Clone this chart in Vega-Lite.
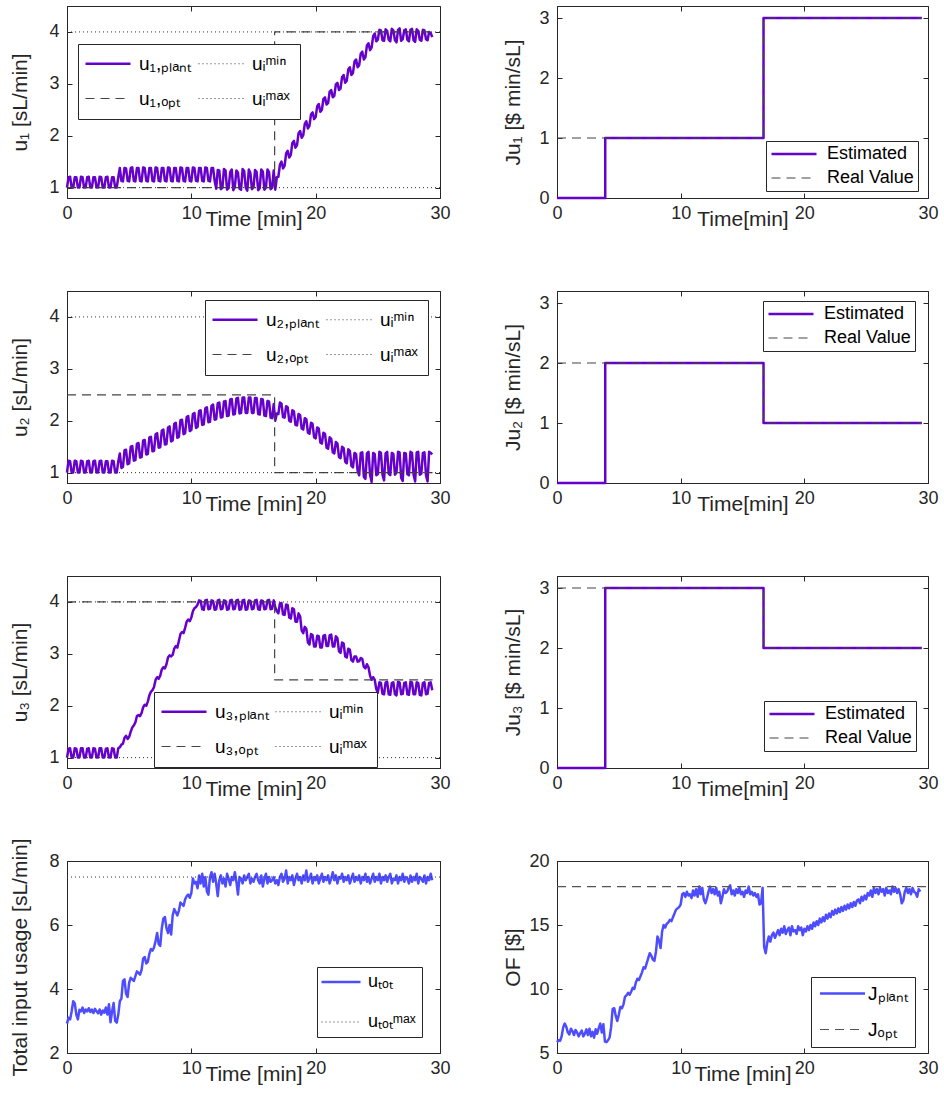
{
"$schema":"https://vega.github.io/schema/vega-lite/v6.json",
"autosize":{"type":"pad"},
"padding":{"left":8,"top":5,"right":6,"bottom":10},
"background":"white",
"config":{
 "font":"Liberation Sans",
 "view":{"stroke":"#262626","strokeWidth":1},
 "axis":{"labelFont":"Liberation Sans","titleFont":"Liberation Sans","labelFontSize":18,"titleFontSize":21,"titleFontWeight":"normal","labelColor":"#262626","titleColor":"#262626","domainColor":"#262626","tickColor":"#262626","tickSize":-5,"grid":false,"labelPadding":11,"labelFlush":false,"labelOverlap":false},
 "axisX":{"titleY":21,"titleBaseline":"middle"},
 "axisY":{"titleBaseline":"middle","labelPadding":13},
 "legend":{"orient":"none","labelFont":"Liberation Sans","labelFontSize":18,"labelColor":"#000000","strokeColor":"#262626","fillColor":"#ffffff","padding":8,"symbolType":"M-1,0H5","symbolSize":225,"rowPadding":12,"columnPadding":6,"labelOffset":38,"labelLimit":300},
 "line":{"strokeJoin":"round","strokeCap":"butt"}
},
"datasets":{
"L":[
{"t":0,"a":1.0,"b":1.0,"c":1.0,"d":2.92,"j":5.85},
{"t":0.125,"a":1.2,"b":1.23,"c":1.17,"d":3.1,"j":6.0},
{"t":0.25,"a":1.21,"b":1.22,"c":1.18,"d":3.05,"j":5.95},
{"t":0.375,"a":1.0,"b":1.0,"c":1.0,"d":3.3,"j":6.3},
{"t":0.5,"a":1.0,"b":1.0,"c":1.0,"d":3.62,"j":7.0},
{"t":0.625,"a":1.2,"b":1.23,"c":1.18,"d":3.55,"j":7.3},
{"t":0.75,"a":1.2,"b":1.22,"c":1.17,"d":3.2,"j":7.05},
{"t":0.875,"a":1.0,"b":1.0,"c":1.0,"d":3.05,"j":6.6},
{"t":1.0,"a":1.0,"b":1.0,"c":1.0,"d":3.35,"j":6.45},
{"t":1.125,"a":1.21,"b":1.23,"c":1.18,"d":3.3,"j":6.9},
{"t":1.25,"a":1.2,"b":1.22,"c":1.18,"d":3.42,"j":6.7},
{"t":1.375,"a":1.0,"b":1.0,"c":1.0,"d":3.25,"j":6.4},
{"t":1.5,"a":1.0,"b":1.0,"c":1.0,"d":3.36,"j":6.8},
{"t":1.625,"a":1.2,"b":1.22,"c":1.17,"d":3.3,"j":6.6},
{"t":1.75,"a":1.21,"b":1.23,"c":1.18,"d":3.4,"j":6.3},
{"t":1.875,"a":1.0,"b":1.0,"c":1.0,"d":3.28,"j":6.55},
{"t":2.0,"a":1.0,"b":1.0,"c":1.0,"d":3.36,"j":6.75},
{"t":2.125,"a":1.2,"b":1.22,"c":1.18,"d":3.25,"j":6.3},
{"t":2.25,"a":1.2,"b":1.23,"c":1.17,"d":3.38,"j":6.5},
{"t":2.375,"a":1.0,"b":1.0,"c":1.0,"d":3.3,"j":6.85},
{"t":2.5,"a":1.0,"b":1.0,"c":1.0,"d":3.24,"j":6.4},
{"t":2.625,"a":1.21,"b":1.22,"c":1.18,"d":3.36,"j":6.9},
{"t":2.75,"a":1.2,"b":1.23,"c":1.18,"d":3.2,"j":6.3},
{"t":2.875,"a":1.0,"b":1.0,"c":1.0,"d":3.33,"j":6.65},
{"t":3.0,"a":1.0,"b":1.0,"c":1.0,"d":3.26,"j":6.2},
{"t":3.125,"a":1.2,"b":1.22,"c":1.17,"d":3.42,"j":6.85},
{"t":3.25,"a":1.21,"b":1.22,"c":1.18,"d":3.2,"j":6.5},
{"t":3.375,"a":1.0,"b":1.0,"c":1.0,"d":3.52,"j":6.95},
{"t":3.5,"a":1.0,"b":1.0,"c":1.0,"d":2.96,"j":7.3},
{"t":3.625,"a":1.2,"b":1.23,"c":1.18,"d":3.3,"j":6.6},
{"t":3.75,"a":1.2,"b":1.22,"c":1.17,"d":3.56,"j":7.25},
{"t":3.875,"a":1.0,"b":1.0,"c":1.0,"d":3.0,"j":5.9},
{"t":4.0,"a":1.0,"b":1.0,"c":1.0,"d":2.95,"j":5.85},
{"t":4.125,"a":1.2,"b":1.22,"c":1.18,"d":3.2,"j":6.0},
{"t":4.25,"a":1.38,"b":1.37,"c":1.2,"d":3.62,"j":6.2},
{"t":4.375,"a":1.13,"b":1.09,"c":1.25,"d":3.7,"j":7.0},
{"t":4.5,"a":1.12,"b":1.11,"c":1.27,"d":4.25,"j":8.45},
{"t":4.625,"a":1.38,"b":1.43,"c":1.38,"d":4.3,"j":8.5},
{"t":4.75,"a":1.37,"b":1.44,"c":1.42,"d":3.85,"j":7.9},
{"t":4.875,"a":1.13,"b":1.16,"c":1.36,"d":3.75,"j":7.5},
{"t":5.0,"a":1.12,"b":1.18,"c":1.4,"d":4.2,"j":8.0},
{"t":5.125,"a":1.38,"b":1.5,"c":1.5,"d":4.35,"j":8.6},
{"t":5.25,"a":1.39,"b":1.51,"c":1.58,"d":4.3,"j":8.5},
{"t":5.375,"a":1.13,"b":1.23,"c":1.62,"d":4.25,"j":8.8},
{"t":5.5,"a":1.12,"b":1.24,"c":1.68,"d":4.4,"j":9.4},
{"t":5.625,"a":1.38,"b":1.56,"c":1.8,"d":4.55,"j":9.5},
{"t":5.75,"a":1.38,"b":1.57,"c":1.82,"d":4.5,"j":9.7},
{"t":5.875,"a":1.13,"b":1.29,"c":1.8,"d":4.45,"j":9.55},
{"t":6.0,"a":1.12,"b":1.3,"c":1.86,"d":4.6,"j":9.8},
{"t":6.125,"a":1.39,"b":1.62,"c":1.97,"d":4.95,"j":10.1},
{"t":6.25,"a":1.38,"b":1.63,"c":2.02,"d":5.0,"j":10.0},
{"t":6.375,"a":1.13,"b":1.35,"c":2.0,"d":4.8,"j":10.5},
{"t":6.5,"a":1.12,"b":1.36,"c":2.08,"d":4.85,"j":10.8},
{"t":6.625,"a":1.38,"b":1.68,"c":2.2,"d":5.1,"j":10.7},
{"t":6.75,"a":1.38,"b":1.69,"c":2.27,"d":5.25,"j":11.0},
{"t":6.875,"a":1.13,"b":1.41,"c":2.3,"d":5.2,"j":11.3},
{"t":7.0,"a":1.12,"b":1.42,"c":2.36,"d":5.3,"j":11.7},
{"t":7.125,"a":1.39,"b":1.74,"c":2.5,"d":5.5,"j":11.6},
{"t":7.25,"a":1.38,"b":1.76,"c":2.55,"d":5.75,"j":12.0},
{"t":7.375,"a":1.13,"b":1.48,"c":2.52,"d":5.4,"j":12.4},
{"t":7.5,"a":1.12,"b":1.49,"c":2.58,"d":5.35,"j":12.8},
{"t":7.625,"a":1.38,"b":1.81,"c":2.7,"d":5.9,"j":12.6},
{"t":7.75,"a":1.38,"b":1.83,"c":2.74,"d":6.2,"j":12.3},
{"t":7.875,"a":1.13,"b":1.54,"c":2.72,"d":6.25,"j":12.2},
{"t":8.0,"a":1.12,"b":1.55,"c":2.8,"d":5.9,"j":12.9},
{"t":8.125,"a":1.39,"b":1.87,"c":2.93,"d":5.75,"j":14.1},
{"t":8.25,"a":1.38,"b":1.89,"c":2.97,"d":6.0,"j":13.8},
{"t":8.375,"a":1.13,"b":1.6,"c":2.95,"d":5.7,"j":13.2},
{"t":8.5,"a":1.12,"b":1.62,"c":2.98,"d":6.3,"j":14.5},
{"t":8.625,"a":1.38,"b":1.94,"c":3.1,"d":6.5,"j":15.0},
{"t":8.75,"a":1.38,"b":1.96,"c":3.15,"d":6.4,"j":14.8},
{"t":8.875,"a":1.13,"b":1.67,"c":3.12,"d":6.3,"j":15.1},
{"t":9.0,"a":1.12,"b":1.69,"c":3.25,"d":6.45,"j":15.2},
{"t":9.125,"a":1.39,"b":2.01,"c":3.38,"d":6.7,"j":15.4},
{"t":9.25,"a":1.38,"b":2.02,"c":3.42,"d":6.65,"j":15.3},
{"t":9.375,"a":1.13,"b":1.74,"c":3.4,"d":6.6,"j":15.6},
{"t":9.5,"a":1.12,"b":1.76,"c":3.5,"d":6.8,"j":15.9},
{"t":9.625,"a":1.38,"b":2.07,"c":3.62,"d":6.9,"j":16.2},
{"t":9.75,"a":1.38,"b":2.09,"c":3.66,"d":6.95,"j":16.3},
{"t":9.875,"a":1.13,"b":1.8,"c":3.63,"d":6.85,"j":16.4},
{"t":10.0,"a":1.12,"b":1.82,"c":3.7,"d":7.0,"j":16.6},
{"t":10.125,"a":1.39,"b":2.13,"c":3.82,"d":7.45,"j":17.4},
{"t":10.25,"a":1.38,"b":2.15,"c":3.88,"d":7.3,"j":17.5},
{"t":10.375,"a":1.13,"b":1.86,"c":3.9,"d":7.35,"j":17.2},
{"t":10.5,"a":1.12,"b":1.88,"c":3.95,"d":7.15,"j":17.6},
{"t":10.625,"a":1.38,"b":2.19,"c":4.03,"d":7.55,"j":17.3},
{"t":10.75,"a":1.38,"b":2.2,"c":4.02,"d":7.3,"j":17.4},
{"t":10.875,"a":1.13,"b":1.92,"c":3.86,"d":7.6,"j":17.1},
{"t":11.0,"a":1.12,"b":1.93,"c":3.85,"d":7.2,"j":17.7},
{"t":11.125,"a":1.39,"b":2.24,"c":4.03,"d":7.5,"j":17.3},
{"t":11.25,"a":1.38,"b":2.26,"c":4.04,"d":7.05,"j":17.8},
{"t":11.375,"a":1.13,"b":1.97,"c":3.86,"d":6.95,"j":17.2},
{"t":11.5,"a":1.12,"b":1.98,"c":3.87,"d":7.5,"j":18.0},
{"t":11.625,"a":1.38,"b":2.29,"c":4.03,"d":7.65,"j":17.4},
{"t":11.75,"a":1.38,"b":2.31,"c":4.02,"d":7.35,"j":17.9},
{"t":11.875,"a":1.13,"b":2.02,"c":3.85,"d":7.6,"j":17.0},
{"t":12.0,"a":0.98,"b":2.03,"c":3.86,"d":7.3,"j":16.7},
{"t":12.125,"a":1.34,"b":2.34,"c":4.03,"d":6.9,"j":17.1},
{"t":12.25,"a":1.33,"b":2.35,"c":4.04,"d":7.4,"j":17.6},
{"t":12.375,"a":0.97,"b":2.06,"c":3.86,"d":7.55,"j":18.0},
{"t":12.5,"a":1.0,"b":2.07,"c":3.87,"d":7.3,"j":17.5},
{"t":12.625,"a":1.36,"b":2.37,"c":4.03,"d":7.45,"j":17.8},
{"t":12.75,"a":1.33,"b":2.38,"c":4.02,"d":7.2,"j":17.4},
{"t":12.875,"a":0.96,"b":2.09,"c":3.85,"d":7.6,"j":17.9},
{"t":13.0,"a":0.99,"b":2.1,"c":3.86,"d":7.45,"j":17.3},
{"t":13.125,"a":1.3,"b":2.41,"c":4.03,"d":7.25,"j":17.6},
{"t":13.25,"a":1.35,"b":2.42,"c":4.04,"d":7.5,"j":16.7},
{"t":13.375,"a":0.95,"b":2.12,"c":3.86,"d":7.4,"j":17.2},
{"t":13.5,"a":1.02,"b":2.13,"c":3.87,"d":7.65,"j":17.8},
{"t":13.625,"a":1.33,"b":2.43,"c":4.03,"d":7.35,"j":17.5},
{"t":13.75,"a":1.29,"b":2.44,"c":4.04,"d":6.95,"j":17.6},
{"t":13.875,"a":0.98,"b":2.14,"c":3.85,"d":7.5,"j":17.9},
{"t":14.0,"a":0.96,"b":2.15,"c":3.86,"d":7.45,"j":18.1},
{"t":14.125,"a":1.36,"b":2.45,"c":4.03,"d":7.3,"j":17.4},
{"t":14.25,"a":1.32,"b":2.45,"c":4.04,"d":7.55,"j":17.7},
{"t":14.375,"a":1.0,"b":2.15,"c":3.85,"d":7.4,"j":17.3},
{"t":14.5,"a":0.94,"b":2.15,"c":3.86,"d":7.5,"j":17.8},
{"t":14.625,"a":1.35,"b":2.45,"c":4.03,"d":7.6,"j":17.5},
{"t":14.75,"a":1.28,"b":2.45,"c":4.02,"d":7.3,"j":17.9},
{"t":14.875,"a":0.97,"b":2.15,"c":3.86,"d":7.45,"j":17.4},
{"t":15.0,"a":1.01,"b":2.15,"c":3.87,"d":7.35,"j":17.6},
{"t":15.125,"a":1.34,"b":2.44,"c":4.03,"d":7.5,"j":17.2},
{"t":15.25,"a":1.3,"b":2.44,"c":4.04,"d":7.6,"j":17.7},
{"t":15.375,"a":0.95,"b":2.13,"c":3.86,"d":7.4,"j":17.5},
{"t":15.5,"a":0.99,"b":2.12,"c":3.85,"d":7.3,"j":18.0},
{"t":15.625,"a":1.35,"b":2.42,"c":4.03,"d":7.55,"j":17.4},
{"t":15.75,"a":1.31,"b":2.41,"c":4.02,"d":7.2,"j":17.6},
{"t":15.875,"a":0.96,"b":2.1,"c":3.86,"d":7.45,"j":17.3},
{"t":16.0,"a":1.0,"b":2.09,"c":3.87,"d":7.6,"j":17.5},
{"t":16.125,"a":1.35,"b":2.38,"c":4.03,"d":7.3,"j":17.2},
{"t":16.25,"a":1.3,"b":2.37,"c":4.04,"d":7.5,"j":17.4},
{"t":16.375,"a":0.97,"b":2.06,"c":3.86,"d":7.35,"j":16.6},
{"t":16.5,"a":1.0,"b":2.05,"c":3.87,"d":7.4,"j":16.7},
{"t":16.625,"a":1.33,"b":2.32,"c":4.03,"d":7.5,"j":17.9},
{"t":16.75,"a":0.96,"b":2.0,"c":3.9,"d":7.3,"j":13.3},
{"t":16.875,"a":1.2,"b":2.14,"c":3.82,"d":7.4,"j":12.8},
{"t":17.0,"a":1.21,"b":2.13,"c":3.78,"d":7.25,"j":13.6},
{"t":17.125,"a":1.44,"b":2.35,"c":3.97,"d":7.5,"j":14.1},
{"t":17.25,"a":1.5,"b":2.33,"c":3.98,"d":7.6,"j":13.7},
{"t":17.375,"a":1.37,"b":2.07,"c":3.76,"d":7.35,"j":14.2},
{"t":17.5,"a":1.42,"b":2.06,"c":3.75,"d":7.45,"j":14.4},
{"t":17.625,"a":1.66,"b":2.28,"c":3.95,"d":7.7,"j":14.0},
{"t":17.75,"a":1.71,"b":2.26,"c":3.94,"d":7.3,"j":14.3},
{"t":17.875,"a":1.58,"b":2.0,"c":3.7,"d":7.5,"j":14.6},
{"t":18.0,"a":1.63,"b":1.98,"c":3.68,"d":7.4,"j":14.2},
{"t":18.125,"a":1.86,"b":2.2,"c":3.88,"d":7.55,"j":14.7},
{"t":18.25,"a":1.9,"b":2.18,"c":3.86,"d":7.25,"j":14.4},
{"t":18.375,"a":1.77,"b":1.92,"c":3.62,"d":7.45,"j":14.9},
{"t":18.5,"a":1.82,"b":1.91,"c":3.62,"d":7.6,"j":14.3},
{"t":18.625,"a":2.05,"b":2.13,"c":3.78,"d":7.4,"j":14.6},
{"t":18.75,"a":2.09,"b":2.11,"c":3.72,"d":7.5,"j":14.8},
{"t":18.875,"a":1.96,"b":1.85,"c":3.45,"d":7.3,"j":14.2},
{"t":19.0,"a":2.01,"b":1.83,"c":3.4,"d":7.55,"j":14.9},
{"t":19.125,"a":2.23,"b":2.05,"c":3.52,"d":7.4,"j":14.5},
{"t":19.25,"a":2.28,"b":2.03,"c":3.48,"d":7.7,"j":14.6},
{"t":19.375,"a":2.14,"b":1.77,"c":3.22,"d":7.35,"j":14.3},
{"t":19.5,"a":2.19,"b":1.75,"c":3.18,"d":7.45,"j":14.9},
{"t":19.625,"a":2.41,"b":1.96,"c":3.38,"d":7.6,"j":14.6},
{"t":19.75,"a":2.45,"b":1.94,"c":3.36,"d":7.3,"j":14.8},
{"t":19.875,"a":2.32,"b":1.68,"c":3.14,"d":7.5,"j":14.2},
{"t":20.0,"a":2.36,"b":1.66,"c":3.14,"d":7.4,"j":14.7},
{"t":20.125,"a":2.57,"b":1.87,"c":3.35,"d":7.55,"j":14.5},
{"t":20.25,"a":2.61,"b":1.85,"c":3.34,"d":7.3,"j":14.9},
{"t":20.375,"a":2.46,"b":1.58,"c":3.12,"d":7.45,"j":14.6},
{"t":20.5,"a":2.5,"b":1.56,"c":3.12,"d":7.6,"j":15.0},
{"t":20.625,"a":2.71,"b":1.77,"c":3.35,"d":7.35,"j":14.7},
{"t":20.75,"a":2.74,"b":1.75,"c":3.36,"d":7.5,"j":15.2},
{"t":20.875,"a":2.6,"b":1.48,"c":3.15,"d":7.4,"j":14.9},
{"t":21.0,"a":2.63,"b":1.46,"c":3.15,"d":7.55,"j":15.3},
{"t":21.125,"a":2.85,"b":1.68,"c":3.36,"d":7.3,"j":15.0},
{"t":21.25,"a":2.88,"b":1.65,"c":3.37,"d":7.45,"j":15.5},
{"t":21.375,"a":2.74,"b":1.39,"c":3.14,"d":7.65,"j":15.2},
{"t":21.5,"a":2.77,"b":1.37,"c":3.14,"d":7.4,"j":15.6},
{"t":21.625,"a":2.99,"b":1.59,"c":3.34,"d":7.55,"j":15.3},
{"t":21.75,"a":3.02,"b":1.56,"c":3.3,"d":7.3,"j":15.8},
{"t":21.875,"a":2.88,"b":1.3,"c":3.05,"d":7.5,"j":15.5},
{"t":22.0,"a":2.91,"b":1.28,"c":3.02,"d":7.45,"j":15.9},
{"t":22.125,"a":3.13,"b":1.5,"c":3.22,"d":7.6,"j":15.6},
{"t":22.25,"a":3.17,"b":1.47,"c":3.2,"d":7.35,"j":16.1},
{"t":22.375,"a":3.02,"b":1.21,"c":2.95,"d":7.5,"j":15.8},
{"t":22.5,"a":3.06,"b":1.18,"c":2.93,"d":7.4,"j":16.2},
{"t":22.625,"a":3.28,"b":1.45,"c":3.1,"d":7.55,"j":15.9},
{"t":22.75,"a":3.32,"b":1.42,"c":3.08,"d":7.3,"j":16.3},
{"t":22.875,"a":3.17,"b":1.13,"c":2.88,"d":7.45,"j":16.0},
{"t":23.0,"a":3.21,"b":1.1,"c":2.85,"d":7.6,"j":16.4},
{"t":23.125,"a":3.43,"b":1.38,"c":2.95,"d":7.35,"j":16.1},
{"t":23.25,"a":3.47,"b":1.36,"c":2.95,"d":7.5,"j":16.5},
{"t":23.375,"a":3.32,"b":1.03,"c":2.85,"d":7.4,"j":16.2},
{"t":23.5,"a":3.36,"b":0.95,"c":2.86,"d":7.55,"j":16.6},
{"t":23.625,"a":3.58,"b":1.38,"c":2.92,"d":7.3,"j":16.3},
{"t":23.75,"a":3.62,"b":1.39,"c":2.9,"d":7.5,"j":16.7},
{"t":23.875,"a":3.47,"b":0.92,"c":2.75,"d":7.4,"j":16.4},
{"t":24.0,"a":3.51,"b":0.88,"c":2.72,"d":7.6,"j":16.8},
{"t":24.125,"a":3.74,"b":1.37,"c":2.8,"d":7.35,"j":16.5},
{"t":24.25,"a":3.78,"b":1.4,"c":2.74,"d":7.5,"j":16.9},
{"t":24.375,"a":3.65,"b":0.96,"c":2.58,"d":7.3,"j":17.0},
{"t":24.5,"a":3.7,"b":0.82,"c":2.5,"d":7.45,"j":16.7},
{"t":24.625,"a":3.92,"b":1.38,"c":2.55,"d":7.6,"j":17.2},
{"t":24.75,"a":3.97,"b":1.36,"c":2.5,"d":7.35,"j":16.9},
{"t":24.875,"a":3.82,"b":0.95,"c":2.32,"d":7.5,"j":17.3},
{"t":25.0,"a":3.85,"b":0.97,"c":2.25,"d":7.4,"j":17.0},
{"t":25.125,"a":4.04,"b":1.4,"c":2.45,"d":7.6,"j":17.5},
{"t":25.25,"a":4.03,"b":1.38,"c":2.44,"d":7.3,"j":17.3},
{"t":25.375,"a":3.84,"b":0.96,"c":2.23,"d":7.5,"j":17.7},
{"t":25.5,"a":3.83,"b":0.85,"c":2.22,"d":7.4,"j":17.2},
{"t":25.625,"a":4.05,"b":1.37,"c":2.45,"d":7.55,"j":17.9},
{"t":25.75,"a":4.02,"b":1.4,"c":2.46,"d":7.35,"j":17.5},
{"t":25.875,"a":3.85,"b":0.98,"c":2.22,"d":7.5,"j":17.8},
{"t":26.0,"a":3.82,"b":0.95,"c":2.21,"d":7.6,"j":17.4},
{"t":26.125,"a":4.06,"b":1.38,"c":2.44,"d":7.3,"j":17.9},
{"t":26.25,"a":4.03,"b":1.36,"c":2.45,"d":7.45,"j":17.6},
{"t":26.375,"a":3.84,"b":0.96,"c":2.22,"d":7.4,"j":17.8},
{"t":26.5,"a":3.8,"b":1.0,"c":2.2,"d":7.55,"j":17.3},
{"t":26.625,"a":4.04,"b":1.4,"c":2.46,"d":7.3,"j":17.9},
{"t":26.75,"a":4.07,"b":1.39,"c":2.45,"d":7.5,"j":17.5},
{"t":26.875,"a":3.83,"b":0.9,"c":2.22,"d":7.4,"j":17.7},
{"t":27.0,"a":3.86,"b":0.84,"c":2.23,"d":7.6,"j":17.4},
{"t":27.125,"a":4.03,"b":1.38,"c":2.44,"d":7.35,"j":18.0},
{"t":27.25,"a":4.05,"b":1.37,"c":2.45,"d":7.5,"j":17.6},
{"t":27.375,"a":3.85,"b":0.97,"c":2.22,"d":7.45,"j":17.9},
{"t":27.5,"a":3.82,"b":0.95,"c":2.21,"d":7.3,"j":17.5},
{"t":27.625,"a":4.04,"b":1.4,"c":2.46,"d":7.55,"j":17.8},
{"t":27.75,"a":4.06,"b":1.38,"c":2.45,"d":7.35,"j":17.4},
{"t":27.875,"a":3.84,"b":0.96,"c":2.22,"d":7.5,"j":16.7},
{"t":28.0,"a":3.81,"b":0.83,"c":2.22,"d":7.4,"j":16.9},
{"t":28.125,"a":4.05,"b":1.39,"c":2.45,"d":7.6,"j":17.6},
{"t":28.25,"a":4.02,"b":1.4,"c":2.44,"d":7.3,"j":17.9},
{"t":28.375,"a":3.85,"b":0.96,"c":2.21,"d":7.5,"j":17.5},
{"t":28.5,"a":3.83,"b":0.98,"c":2.2,"d":7.45,"j":17.8},
{"t":28.625,"a":4.04,"b":1.38,"c":2.44,"d":7.35,"j":17.4},
{"t":28.75,"a":4.03,"b":1.39,"c":2.45,"d":7.55,"j":17.9},
{"t":28.875,"a":3.86,"b":0.95,"c":2.22,"d":7.3,"j":17.6},
{"t":29.0,"a":3.84,"b":0.83,"c":2.23,"d":7.5,"j":17.5},
{"t":29.125,"a":4.0,"b":1.4,"c":2.44,"d":7.4,"j":17.2},
{"t":29.25,"a":3.98,"b":1.38,"c":2.45,"d":7.6,"j":17.8},
{"t":29.375,"a":3.9,"b":1.35,"c":2.3,"d":7.4,"j":17.6}
],
"opt":[
{"t":0,"o1":1,"o2":2.5,"o3":4},
{"t":16.7,"o1":4,"o2":1,"o3":2.5},
{"t":29.4,"o1":4,"o2":1,"o3":2.5}
],
"lim":[
{"t":0,"lo":1,"hi":4,"tm":7.5,"jo":18},
{"t":30,"lo":1,"hi":4,"tm":7.5,"jo":18}
],
"J":[
{"t":0,"e1":0,"r1":1,"e2":0,"r2":2,"e3":0,"r3":3},
{"t":3.9,"e1":1,"r1":1,"e2":2,"r2":2,"e3":3,"r3":3},
{"t":16.7,"e1":3,"r1":3,"e2":1,"r2":1,"e3":2,"r3":2},
{"t":29.5,"e1":3,"r1":3,"e2":1,"r2":1,"e3":2,"r3":2}
]
},
"columns":2,
"spacing":{"row":93,"column":117},
"bounds":"flush",
"resolve":{"scale":{"color":"independent","strokeDash":"independent","strokeWidth":"independent"}},
"concat":[
{"width":373,"height":192,"resolve":{"axis":{"x":"independent","y":"independent"}},
 "layer":[
 {"data":{"name":"L"},"mark":{"type":"line"},
  "encoding":{
   "x":{"field":"t","type":"quantitative","scale":{"domain":[0,30],"nice":false},"axis":{"values":[0,10,20,30],"title":"Time [min]"}},
   "y":{"field":"a","type":"quantitative","scale":{"domain":[0.8,4.5],"nice":false,"zero":false},"axis":{"values":[1,2,3,4],"title":"u₁ [sL/min]","titleX":-47}},
   "color":{"datum":"u₁,ₚₗₐₙₜ","type":"nominal","scale":{"domain":["u₁,ₚₗₐₙₜ","u₁,ₒₚₜ","uᵢᵐⁱⁿ","uᵢᵐᵃˣ"],"range":["#6600cc","#444444","#333333","#333333"]},"legend":{"title":null,"legendX":11,"legendY":38,"columns":2,"labelFontSize":19,"padding":10,"rowPadding":15,"columnPadding":6,"symbolType":"M-1.6,0H4.4","symbolSize":225,"labelOffset":32}},
   "strokeDash":{"datum":"u₁,ₚₗₐₙₜ","type":"nominal","scale":{"domain":["u₁,ₚₗₐₙₜ","u₁,ₒₚₜ","uᵢᵐⁱⁿ","uᵢᵐᵃˣ"],"range":[[1,0],[9,6],[1,3],[1,3]]},"legend":{"title":null,"legendX":11,"legendY":38,"columns":2,"labelFontSize":19,"padding":10,"rowPadding":15,"columnPadding":6,"symbolType":"M-1.6,0H4.4","symbolSize":225,"labelOffset":32}},
   "strokeWidth":{"datum":"u₁,ₚₗₐₙₜ","type":"nominal","scale":{"type":"ordinal","domain":["u₁,ₚₗₐₙₜ","u₁,ₒₚₜ","uᵢᵐⁱⁿ","uᵢᵐᵃˣ"],"range":[2.5,1.2,1,1]},"legend":{"title":null,"legendX":11,"legendY":38,"columns":2,"labelFontSize":19,"padding":10,"rowPadding":15,"columnPadding":6,"symbolType":"M-1.6,0H4.4","symbolSize":225,"labelOffset":32}}
  }},
 {"data":{"name":"opt"},"mark":{"type":"line","interpolate":"step-after"},
  "encoding":{
   "x":{"field":"t","type":"quantitative","scale":{"domain":[0,30],"nice":false},"axis":{"orient":"top","values":[0,10,20,30],"labels":false,"title":null,"domain":false}},
   "y":{"field":"o1","type":"quantitative","scale":{"domain":[0.8,4.5],"nice":false,"zero":false},"axis":{"orient":"right","values":[1,2,3,4],"labels":false,"title":null,"domain":false}},
   "color":{"datum":"u₁,ₒₚₜ","type":"nominal","scale":{"domain":["u₁,ₚₗₐₙₜ","u₁,ₒₚₜ","uᵢᵐⁱⁿ","uᵢᵐᵃˣ"],"range":["#6600cc","#444444","#333333","#333333"]}},
   "strokeDash":{"datum":"u₁,ₒₚₜ","type":"nominal","scale":{"domain":["u₁,ₚₗₐₙₜ","u₁,ₒₚₜ","uᵢᵐⁱⁿ","uᵢᵐᵃˣ"],"range":[[1,0],[9,6],[1,3],[1,3]]}},
   "strokeWidth":{"datum":"u₁,ₒₚₜ","type":"nominal","scale":{"type":"ordinal","domain":["u₁,ₚₗₐₙₜ","u₁,ₒₚₜ","uᵢᵐⁱⁿ","uᵢᵐᵃˣ"],"range":[2.5,1.2,1,1]}}
  }},
 {"data":{"name":"lim"},"mark":{"type":"line"},
  "encoding":{
   "x":{"field":"t","type":"quantitative","scale":{"domain":[0,30],"nice":false},"axis":null},
   "y":{"field":"lo","type":"quantitative","scale":{"domain":[0.8,4.5],"nice":false,"zero":false},"axis":null},
   "color":{"datum":"uᵢᵐⁱⁿ","type":"nominal","scale":{"domain":["u₁,ₚₗₐₙₜ","u₁,ₒₚₜ","uᵢᵐⁱⁿ","uᵢᵐᵃˣ"],"range":["#6600cc","#444444","#333333","#333333"]}},
   "strokeDash":{"datum":"uᵢᵐⁱⁿ","type":"nominal","scale":{"domain":["u₁,ₚₗₐₙₜ","u₁,ₒₚₜ","uᵢᵐⁱⁿ","uᵢᵐᵃˣ"],"range":[[1,0],[9,6],[1,3],[1,3]]}},
   "strokeWidth":{"datum":"uᵢᵐⁱⁿ","type":"nominal","scale":{"type":"ordinal","domain":["u₁,ₚₗₐₙₜ","u₁,ₒₚₜ","uᵢᵐⁱⁿ","uᵢᵐᵃˣ"],"range":[2.5,1.2,1,1]}}
  }},
 {"data":{"name":"lim"},"mark":{"type":"line"},
  "encoding":{
   "x":{"field":"t","type":"quantitative","scale":{"domain":[0,30],"nice":false},"axis":null},
   "y":{"field":"hi","type":"quantitative","scale":{"domain":[0.8,4.5],"nice":false,"zero":false},"axis":null},
   "color":{"datum":"uᵢᵐᵃˣ","type":"nominal","scale":{"domain":["u₁,ₚₗₐₙₜ","u₁,ₒₚₜ","uᵢᵐⁱⁿ","uᵢᵐᵃˣ"],"range":["#6600cc","#444444","#333333","#333333"]}},
   "strokeDash":{"datum":"uᵢᵐᵃˣ","type":"nominal","scale":{"domain":["u₁,ₚₗₐₙₜ","u₁,ₒₚₜ","uᵢᵐⁱⁿ","uᵢᵐᵃˣ"],"range":[[1,0],[9,6],[1,3],[1,3]]}},
   "strokeWidth":{"datum":"uᵢᵐᵃˣ","type":"nominal","scale":{"type":"ordinal","domain":["u₁,ₚₗₐₙₜ","u₁,ₒₚₜ","uᵢᵐⁱⁿ","uᵢᵐᵃˣ"],"range":[2.5,1.2,1,1]}}
  }}
 ]},
{"width":371,"height":192,"resolve":{"axis":{"x":"independent","y":"independent"}},
 "layer":[
 {"data":{"name":"J"},"mark":{"type":"line","interpolate":"step-after"},
  "encoding":{
   "x":{"field":"t","type":"quantitative","scale":{"domain":[0,30],"nice":false},"axis":{"values":[0,10,20,30],"title":"Time[min]"}},
   "y":{"field":"e1","type":"quantitative","scale":{"domain":[0,3.2],"nice":false},"axis":{"values":[0,1,2,3],"title":"Ju₁ [$ min/sL]","titleX":-44}},
   "color":{"datum":"Estimated","type":"nominal","scale":{"domain":["Estimated","Real Value"],"range":["#6600cc","#444444"]},"legend":{"title":null,"legendX":209,"legendY":135,"padding":4,"rowPadding":6,"symbolType":"M-1,0H5","symbolSize":225,"labelOffset":39}},
   "strokeDash":{"datum":"Estimated","type":"nominal","scale":{"domain":["Estimated","Real Value"],"range":[[1,0],[9,6]]},"legend":{"title":null,"legendX":209,"legendY":135,"padding":4,"rowPadding":6,"symbolType":"M-1,0H5","symbolSize":225,"labelOffset":39}},
   "strokeWidth":{"datum":"Estimated","type":"nominal","scale":{"type":"ordinal","domain":["Estimated","Real Value"],"range":[2.5,1.2]},"legend":{"title":null,"legendX":209,"legendY":135,"padding":4,"rowPadding":6,"symbolType":"M-1,0H5","symbolSize":225,"labelOffset":39}}
  }},
 {"data":{"name":"J"},"mark":{"type":"line","interpolate":"step-after"},
  "encoding":{
   "x":{"field":"t","type":"quantitative","scale":{"domain":[0,30],"nice":false},"axis":{"orient":"top","values":[0,10,20,30],"labels":false,"title":null,"domain":false}},
   "y":{"field":"r1","type":"quantitative","scale":{"domain":[0,3.2],"nice":false},"axis":{"orient":"right","values":[0,1,2,3],"labels":false,"title":null,"domain":false}},
   "color":{"datum":"Real Value","type":"nominal","scale":{"domain":["Estimated","Real Value"],"range":["#6600cc","#444444"]}},
   "strokeDash":{"datum":"Real Value","type":"nominal","scale":{"domain":["Estimated","Real Value"],"range":[[1,0],[9,6]]}},
   "strokeWidth":{"datum":"Real Value","type":"nominal","scale":{"type":"ordinal","domain":["Estimated","Real Value"],"range":[2.5,1.2]}}
  }}
 ]},
{"width":373,"height":192,"resolve":{"axis":{"x":"independent","y":"independent"}},
 "layer":[
 {"data":{"name":"L"},"mark":{"type":"line"},
  "encoding":{
   "x":{"field":"t","type":"quantitative","scale":{"domain":[0,30],"nice":false},"axis":{"values":[0,10,20,30],"title":"Time [min]"}},
   "y":{"field":"b","type":"quantitative","scale":{"domain":[0.8,4.5],"nice":false,"zero":false},"axis":{"values":[1,2,3,4],"title":"u₂ [sL/min]","titleX":-47}},
   "color":{"datum":"u₂,ₚₗₐₙₜ","type":"nominal","scale":{"domain":["u₂,ₚₗₐₙₜ","u₂,ₒₚₜ","uᵢᵐⁱⁿ","uᵢᵐᵃˣ"],"range":["#6600cc","#444444","#333333","#333333"]},"legend":{"title":null,"legendX":138,"legendY":9,"columns":2,"labelFontSize":19,"padding":10,"rowPadding":15,"columnPadding":6,"symbolType":"M-1.6,0H4.4","symbolSize":225,"labelOffset":32}},
   "strokeDash":{"datum":"u₂,ₚₗₐₙₜ","type":"nominal","scale":{"domain":["u₂,ₚₗₐₙₜ","u₂,ₒₚₜ","uᵢᵐⁱⁿ","uᵢᵐᵃˣ"],"range":[[1,0],[9,6],[1,3],[1,3]]},"legend":{"title":null,"legendX":138,"legendY":9,"columns":2,"labelFontSize":19,"padding":10,"rowPadding":15,"columnPadding":6,"symbolType":"M-1.6,0H4.4","symbolSize":225,"labelOffset":32}},
   "strokeWidth":{"datum":"u₂,ₚₗₐₙₜ","type":"nominal","scale":{"type":"ordinal","domain":["u₂,ₚₗₐₙₜ","u₂,ₒₚₜ","uᵢᵐⁱⁿ","uᵢᵐᵃˣ"],"range":[2.5,1.2,1,1]},"legend":{"title":null,"legendX":138,"legendY":9,"columns":2,"labelFontSize":19,"padding":10,"rowPadding":15,"columnPadding":6,"symbolType":"M-1.6,0H4.4","symbolSize":225,"labelOffset":32}}
  }},
 {"data":{"name":"opt"},"mark":{"type":"line","interpolate":"step-after"},
  "encoding":{
   "x":{"field":"t","type":"quantitative","scale":{"domain":[0,30],"nice":false},"axis":{"orient":"top","values":[0,10,20,30],"labels":false,"title":null,"domain":false}},
   "y":{"field":"o2","type":"quantitative","scale":{"domain":[0.8,4.5],"nice":false,"zero":false},"axis":{"orient":"right","values":[1,2,3,4],"labels":false,"title":null,"domain":false}},
   "color":{"datum":"u₂,ₒₚₜ","type":"nominal","scale":{"domain":["u₂,ₚₗₐₙₜ","u₂,ₒₚₜ","uᵢᵐⁱⁿ","uᵢᵐᵃˣ"],"range":["#6600cc","#444444","#333333","#333333"]}},
   "strokeDash":{"datum":"u₂,ₒₚₜ","type":"nominal","scale":{"domain":["u₂,ₚₗₐₙₜ","u₂,ₒₚₜ","uᵢᵐⁱⁿ","uᵢᵐᵃˣ"],"range":[[1,0],[9,6],[1,3],[1,3]]}},
   "strokeWidth":{"datum":"u₂,ₒₚₜ","type":"nominal","scale":{"type":"ordinal","domain":["u₂,ₚₗₐₙₜ","u₂,ₒₚₜ","uᵢᵐⁱⁿ","uᵢᵐᵃˣ"],"range":[2.5,1.2,1,1]}}
  }},
 {"data":{"name":"lim"},"mark":{"type":"line"},
  "encoding":{
   "x":{"field":"t","type":"quantitative","scale":{"domain":[0,30],"nice":false},"axis":null},
   "y":{"field":"lo","type":"quantitative","scale":{"domain":[0.8,4.5],"nice":false,"zero":false},"axis":null},
   "color":{"datum":"uᵢᵐⁱⁿ","type":"nominal","scale":{"domain":["u₂,ₚₗₐₙₜ","u₂,ₒₚₜ","uᵢᵐⁱⁿ","uᵢᵐᵃˣ"],"range":["#6600cc","#444444","#333333","#333333"]}},
   "strokeDash":{"datum":"uᵢᵐⁱⁿ","type":"nominal","scale":{"domain":["u₂,ₚₗₐₙₜ","u₂,ₒₚₜ","uᵢᵐⁱⁿ","uᵢᵐᵃˣ"],"range":[[1,0],[9,6],[1,3],[1,3]]}},
   "strokeWidth":{"datum":"uᵢᵐⁱⁿ","type":"nominal","scale":{"type":"ordinal","domain":["u₂,ₚₗₐₙₜ","u₂,ₒₚₜ","uᵢᵐⁱⁿ","uᵢᵐᵃˣ"],"range":[2.5,1.2,1,1]}}
  }},
 {"data":{"name":"lim"},"mark":{"type":"line"},
  "encoding":{
   "x":{"field":"t","type":"quantitative","scale":{"domain":[0,30],"nice":false},"axis":null},
   "y":{"field":"hi","type":"quantitative","scale":{"domain":[0.8,4.5],"nice":false,"zero":false},"axis":null},
   "color":{"datum":"uᵢᵐᵃˣ","type":"nominal","scale":{"domain":["u₂,ₚₗₐₙₜ","u₂,ₒₚₜ","uᵢᵐⁱⁿ","uᵢᵐᵃˣ"],"range":["#6600cc","#444444","#333333","#333333"]}},
   "strokeDash":{"datum":"uᵢᵐᵃˣ","type":"nominal","scale":{"domain":["u₂,ₚₗₐₙₜ","u₂,ₒₚₜ","uᵢᵐⁱⁿ","uᵢᵐᵃˣ"],"range":[[1,0],[9,6],[1,3],[1,3]]}},
   "strokeWidth":{"datum":"uᵢᵐᵃˣ","type":"nominal","scale":{"type":"ordinal","domain":["u₂,ₚₗₐₙₜ","u₂,ₒₚₜ","uᵢᵐⁱⁿ","uᵢᵐᵃˣ"],"range":[2.5,1.2,1,1]}}
  }}
 ]},
{"width":371,"height":192,"resolve":{"axis":{"x":"independent","y":"independent"}},
 "layer":[
 {"data":{"name":"J"},"mark":{"type":"line","interpolate":"step-after"},
  "encoding":{
   "x":{"field":"t","type":"quantitative","scale":{"domain":[0,30],"nice":false},"axis":{"values":[0,10,20,30],"title":"Time[min]"}},
   "y":{"field":"e2","type":"quantitative","scale":{"domain":[0,3.2],"nice":false},"axis":{"values":[0,1,2,3],"title":"Ju₂ [$ min/sL]","titleX":-44}},
   "color":{"datum":"Estimated","type":"nominal","scale":{"domain":["Estimated","Real Value"],"range":["#6600cc","#444444"]},"legend":{"title":null,"legendX":206,"legendY":10,"padding":4,"rowPadding":6,"symbolType":"M-1,0H5","symbolSize":225,"labelOffset":39}},
   "strokeDash":{"datum":"Estimated","type":"nominal","scale":{"domain":["Estimated","Real Value"],"range":[[1,0],[9,6]]},"legend":{"title":null,"legendX":206,"legendY":10,"padding":4,"rowPadding":6,"symbolType":"M-1,0H5","symbolSize":225,"labelOffset":39}},
   "strokeWidth":{"datum":"Estimated","type":"nominal","scale":{"type":"ordinal","domain":["Estimated","Real Value"],"range":[2.5,1.2]},"legend":{"title":null,"legendX":206,"legendY":10,"padding":4,"rowPadding":6,"symbolType":"M-1,0H5","symbolSize":225,"labelOffset":39}}
  }},
 {"data":{"name":"J"},"mark":{"type":"line","interpolate":"step-after"},
  "encoding":{
   "x":{"field":"t","type":"quantitative","scale":{"domain":[0,30],"nice":false},"axis":{"orient":"top","values":[0,10,20,30],"labels":false,"title":null,"domain":false}},
   "y":{"field":"r2","type":"quantitative","scale":{"domain":[0,3.2],"nice":false},"axis":{"orient":"right","values":[0,1,2,3],"labels":false,"title":null,"domain":false}},
   "color":{"datum":"Real Value","type":"nominal","scale":{"domain":["Estimated","Real Value"],"range":["#6600cc","#444444"]}},
   "strokeDash":{"datum":"Real Value","type":"nominal","scale":{"domain":["Estimated","Real Value"],"range":[[1,0],[9,6]]}},
   "strokeWidth":{"datum":"Real Value","type":"nominal","scale":{"type":"ordinal","domain":["Estimated","Real Value"],"range":[2.5,1.2]}}
  }}
 ]},
{"width":373,"height":192,"resolve":{"axis":{"x":"independent","y":"independent"}},
 "layer":[
 {"data":{"name":"L"},"mark":{"type":"line"},
  "encoding":{
   "x":{"field":"t","type":"quantitative","scale":{"domain":[0,30],"nice":false},"axis":{"values":[0,10,20,30],"title":"Time [min]"}},
   "y":{"field":"c","type":"quantitative","scale":{"domain":[0.8,4.5],"nice":false,"zero":false},"axis":{"values":[1,2,3,4],"title":"u₃ [sL/min]","titleX":-47}},
   "color":{"datum":"u₃,ₚₗₐₙₜ","type":"nominal","scale":{"domain":["u₃,ₚₗₐₙₜ","u₃,ₒₚₜ","uᵢᵐⁱⁿ","uᵢᵐᵃˣ"],"range":["#6600cc","#444444","#333333","#333333"]},"legend":{"title":null,"legendX":87,"legendY":116,"columns":2,"labelFontSize":19,"padding":10,"rowPadding":15,"columnPadding":6,"symbolType":"M-1.6,0H4.4","symbolSize":225,"labelOffset":32}},
   "strokeDash":{"datum":"u₃,ₚₗₐₙₜ","type":"nominal","scale":{"domain":["u₃,ₚₗₐₙₜ","u₃,ₒₚₜ","uᵢᵐⁱⁿ","uᵢᵐᵃˣ"],"range":[[1,0],[9,6],[1,3],[1,3]]},"legend":{"title":null,"legendX":87,"legendY":116,"columns":2,"labelFontSize":19,"padding":10,"rowPadding":15,"columnPadding":6,"symbolType":"M-1.6,0H4.4","symbolSize":225,"labelOffset":32}},
   "strokeWidth":{"datum":"u₃,ₚₗₐₙₜ","type":"nominal","scale":{"type":"ordinal","domain":["u₃,ₚₗₐₙₜ","u₃,ₒₚₜ","uᵢᵐⁱⁿ","uᵢᵐᵃˣ"],"range":[2.5,1.2,1,1]},"legend":{"title":null,"legendX":87,"legendY":116,"columns":2,"labelFontSize":19,"padding":10,"rowPadding":15,"columnPadding":6,"symbolType":"M-1.6,0H4.4","symbolSize":225,"labelOffset":32}}
  }},
 {"data":{"name":"opt"},"mark":{"type":"line","interpolate":"step-after"},
  "encoding":{
   "x":{"field":"t","type":"quantitative","scale":{"domain":[0,30],"nice":false},"axis":{"orient":"top","values":[0,10,20,30],"labels":false,"title":null,"domain":false}},
   "y":{"field":"o3","type":"quantitative","scale":{"domain":[0.8,4.5],"nice":false,"zero":false},"axis":{"orient":"right","values":[1,2,3,4],"labels":false,"title":null,"domain":false}},
   "color":{"datum":"u₃,ₒₚₜ","type":"nominal","scale":{"domain":["u₃,ₚₗₐₙₜ","u₃,ₒₚₜ","uᵢᵐⁱⁿ","uᵢᵐᵃˣ"],"range":["#6600cc","#444444","#333333","#333333"]}},
   "strokeDash":{"datum":"u₃,ₒₚₜ","type":"nominal","scale":{"domain":["u₃,ₚₗₐₙₜ","u₃,ₒₚₜ","uᵢᵐⁱⁿ","uᵢᵐᵃˣ"],"range":[[1,0],[9,6],[1,3],[1,3]]}},
   "strokeWidth":{"datum":"u₃,ₒₚₜ","type":"nominal","scale":{"type":"ordinal","domain":["u₃,ₚₗₐₙₜ","u₃,ₒₚₜ","uᵢᵐⁱⁿ","uᵢᵐᵃˣ"],"range":[2.5,1.2,1,1]}}
  }},
 {"data":{"name":"lim"},"mark":{"type":"line"},
  "encoding":{
   "x":{"field":"t","type":"quantitative","scale":{"domain":[0,30],"nice":false},"axis":null},
   "y":{"field":"lo","type":"quantitative","scale":{"domain":[0.8,4.5],"nice":false,"zero":false},"axis":null},
   "color":{"datum":"uᵢᵐⁱⁿ","type":"nominal","scale":{"domain":["u₃,ₚₗₐₙₜ","u₃,ₒₚₜ","uᵢᵐⁱⁿ","uᵢᵐᵃˣ"],"range":["#6600cc","#444444","#333333","#333333"]}},
   "strokeDash":{"datum":"uᵢᵐⁱⁿ","type":"nominal","scale":{"domain":["u₃,ₚₗₐₙₜ","u₃,ₒₚₜ","uᵢᵐⁱⁿ","uᵢᵐᵃˣ"],"range":[[1,0],[9,6],[1,3],[1,3]]}},
   "strokeWidth":{"datum":"uᵢᵐⁱⁿ","type":"nominal","scale":{"type":"ordinal","domain":["u₃,ₚₗₐₙₜ","u₃,ₒₚₜ","uᵢᵐⁱⁿ","uᵢᵐᵃˣ"],"range":[2.5,1.2,1,1]}}
  }},
 {"data":{"name":"lim"},"mark":{"type":"line"},
  "encoding":{
   "x":{"field":"t","type":"quantitative","scale":{"domain":[0,30],"nice":false},"axis":null},
   "y":{"field":"hi","type":"quantitative","scale":{"domain":[0.8,4.5],"nice":false,"zero":false},"axis":null},
   "color":{"datum":"uᵢᵐᵃˣ","type":"nominal","scale":{"domain":["u₃,ₚₗₐₙₜ","u₃,ₒₚₜ","uᵢᵐⁱⁿ","uᵢᵐᵃˣ"],"range":["#6600cc","#444444","#333333","#333333"]}},
   "strokeDash":{"datum":"uᵢᵐᵃˣ","type":"nominal","scale":{"domain":["u₃,ₚₗₐₙₜ","u₃,ₒₚₜ","uᵢᵐⁱⁿ","uᵢᵐᵃˣ"],"range":[[1,0],[9,6],[1,3],[1,3]]}},
   "strokeWidth":{"datum":"uᵢᵐᵃˣ","type":"nominal","scale":{"type":"ordinal","domain":["u₃,ₚₗₐₙₜ","u₃,ₒₚₜ","uᵢᵐⁱⁿ","uᵢᵐᵃˣ"],"range":[2.5,1.2,1,1]}}
  }}
 ]},
{"width":371,"height":192,"resolve":{"axis":{"x":"independent","y":"independent"}},
 "layer":[
 {"data":{"name":"J"},"mark":{"type":"line","interpolate":"step-after"},
  "encoding":{
   "x":{"field":"t","type":"quantitative","scale":{"domain":[0,30],"nice":false},"axis":{"values":[0,10,20,30],"title":"Time[min]"}},
   "y":{"field":"e3","type":"quantitative","scale":{"domain":[0,3.2],"nice":false},"axis":{"values":[0,1,2,3],"title":"Ju₃ [$ min/sL]","titleX":-44}},
   "color":{"datum":"Estimated","type":"nominal","scale":{"domain":["Estimated","Real Value"],"range":["#6600cc","#444444"]},"legend":{"title":null,"legendX":207,"legendY":125,"padding":4,"rowPadding":6,"symbolType":"M-1,0H5","symbolSize":225,"labelOffset":39}},
   "strokeDash":{"datum":"Estimated","type":"nominal","scale":{"domain":["Estimated","Real Value"],"range":[[1,0],[9,6]]},"legend":{"title":null,"legendX":207,"legendY":125,"padding":4,"rowPadding":6,"symbolType":"M-1,0H5","symbolSize":225,"labelOffset":39}},
   "strokeWidth":{"datum":"Estimated","type":"nominal","scale":{"type":"ordinal","domain":["Estimated","Real Value"],"range":[2.5,1.2]},"legend":{"title":null,"legendX":207,"legendY":125,"padding":4,"rowPadding":6,"symbolType":"M-1,0H5","symbolSize":225,"labelOffset":39}}
  }},
 {"data":{"name":"J"},"mark":{"type":"line","interpolate":"step-after"},
  "encoding":{
   "x":{"field":"t","type":"quantitative","scale":{"domain":[0,30],"nice":false},"axis":{"orient":"top","values":[0,10,20,30],"labels":false,"title":null,"domain":false}},
   "y":{"field":"r3","type":"quantitative","scale":{"domain":[0,3.2],"nice":false},"axis":{"orient":"right","values":[0,1,2,3],"labels":false,"title":null,"domain":false}},
   "color":{"datum":"Real Value","type":"nominal","scale":{"domain":["Estimated","Real Value"],"range":["#6600cc","#444444"]}},
   "strokeDash":{"datum":"Real Value","type":"nominal","scale":{"domain":["Estimated","Real Value"],"range":[[1,0],[9,6]]}},
   "strokeWidth":{"datum":"Real Value","type":"nominal","scale":{"type":"ordinal","domain":["Estimated","Real Value"],"range":[2.5,1.2]}}
  }}
 ]},
{"width":373,"height":192,"resolve":{"axis":{"x":"independent","y":"independent"}},
 "layer":[
 {"data":{"name":"L"},"mark":{"type":"line"},
  "encoding":{
   "x":{"field":"t","type":"quantitative","scale":{"domain":[0,30],"nice":false},"axis":{"values":[0,10,20,30],"title":"Time [min]"}},
   "y":{"field":"d","type":"quantitative","scale":{"domain":[2,8],"nice":false,"zero":false},"axis":{"values":[2,4,6,8],"title":"Total input usage [sL/min]","titleX":-47}},
   "color":{"datum":"uₜₒₜ","type":"nominal","scale":{"domain":["uₜₒₜ","uₜₒₜᵐᵃˣ"],"range":["#4d4dff","#333333"]},"legend":{"title":null,"legendX":250,"legendY":106,"labelFontSize":18,"padding":6,"rowPadding":22,"symbolType":"M-1.4,0H3.8","symbolSize":225,"labelOffset":27}},
   "strokeDash":{"datum":"uₜₒₜ","type":"nominal","scale":{"domain":["uₜₒₜ","uₜₒₜᵐᵃˣ"],"range":[[1,0],[1,3]]},"legend":{"title":null,"legendX":250,"legendY":106,"labelFontSize":18,"padding":6,"rowPadding":22,"symbolType":"M-1.4,0H3.8","symbolSize":225,"labelOffset":27}},
   "strokeWidth":{"datum":"uₜₒₜ","type":"nominal","scale":{"type":"ordinal","domain":["uₜₒₜ","uₜₒₜᵐᵃˣ"],"range":[2.5,1]},"legend":{"title":null,"legendX":250,"legendY":106,"labelFontSize":18,"padding":6,"rowPadding":22,"symbolType":"M-1.4,0H3.8","symbolSize":225,"labelOffset":27}}
  }},
 {"data":{"name":"lim"},"mark":{"type":"line"},
  "encoding":{
   "x":{"field":"t","type":"quantitative","scale":{"domain":[0,30],"nice":false},"axis":{"orient":"top","values":[0,10,20,30],"labels":false,"title":null,"domain":false}},
   "y":{"field":"tm","type":"quantitative","scale":{"domain":[2,8],"nice":false,"zero":false},"axis":{"orient":"right","values":[2,4,6,8],"labels":false,"title":null,"domain":false}},
   "color":{"datum":"uₜₒₜᵐᵃˣ","type":"nominal","scale":{"domain":["uₜₒₜ","uₜₒₜᵐᵃˣ"],"range":["#4d4dff","#333333"]}},
   "strokeDash":{"datum":"uₜₒₜᵐᵃˣ","type":"nominal","scale":{"domain":["uₜₒₜ","uₜₒₜᵐᵃˣ"],"range":[[1,0],[1,3]]}},
   "strokeWidth":{"datum":"uₜₒₜᵐᵃˣ","type":"nominal","scale":{"type":"ordinal","domain":["uₜₒₜ","uₜₒₜᵐᵃˣ"],"range":[2.5,1]}}
  }}
 ]},
{"width":371,"height":192,"resolve":{"axis":{"x":"independent","y":"independent"}},
 "layer":[
 {"data":{"name":"L"},"mark":{"type":"line"},
  "encoding":{
   "x":{"field":"t","type":"quantitative","scale":{"domain":[0,30],"nice":false},"axis":{"values":[0,10,20,30],"title":"Time [min]"}},
   "y":{"field":"j","type":"quantitative","scale":{"domain":[5,20],"nice":false,"zero":false},"axis":{"values":[5,10,15,20],"title":"OF [$]","titleX":-44}},
   "color":{"datum":"Jₚₗₐₙₜ","type":"nominal","scale":{"domain":["Jₚₗₐₙₜ","Jₒₚₜ"],"range":["#4d4dff","#555555"]},"legend":{"title":null,"legendX":254,"legendY":116,"labelFontSize":19,"padding":7,"rowPadding":16,"symbolType":"M-1,0H5","symbolSize":225,"labelOffset":31}},
   "strokeDash":{"datum":"Jₚₗₐₙₜ","type":"nominal","scale":{"domain":["Jₚₗₐₙₜ","Jₒₚₜ"],"range":[[1,0],[9,6]]},"legend":{"title":null,"legendX":254,"legendY":116,"labelFontSize":19,"padding":7,"rowPadding":16,"symbolType":"M-1,0H5","symbolSize":225,"labelOffset":31}},
   "strokeWidth":{"datum":"Jₚₗₐₙₜ","type":"nominal","scale":{"type":"ordinal","domain":["Jₚₗₐₙₜ","Jₒₚₜ"],"range":[2.5,1.2]},"legend":{"title":null,"legendX":254,"legendY":116,"labelFontSize":19,"padding":7,"rowPadding":16,"symbolType":"M-1,0H5","symbolSize":225,"labelOffset":31}}
  }},
 {"data":{"name":"lim"},"mark":{"type":"line"},
  "encoding":{
   "x":{"field":"t","type":"quantitative","scale":{"domain":[0,30],"nice":false},"axis":{"orient":"top","values":[0,10,20,30],"labels":false,"title":null,"domain":false}},
   "y":{"field":"jo","type":"quantitative","scale":{"domain":[5,20],"nice":false,"zero":false},"axis":{"orient":"right","values":[5,10,15,20],"labels":false,"title":null,"domain":false}},
   "color":{"datum":"Jₒₚₜ","type":"nominal","scale":{"domain":["Jₚₗₐₙₜ","Jₒₚₜ"],"range":["#4d4dff","#555555"]}},
   "strokeDash":{"datum":"Jₒₚₜ","type":"nominal","scale":{"domain":["Jₚₗₐₙₜ","Jₒₚₜ"],"range":[[1,0],[9,6]]}},
   "strokeWidth":{"datum":"Jₒₚₜ","type":"nominal","scale":{"type":"ordinal","domain":["Jₚₗₐₙₜ","Jₒₚₜ"],"range":[2.5,1.2]}}
  }}
 ]}
]
}
